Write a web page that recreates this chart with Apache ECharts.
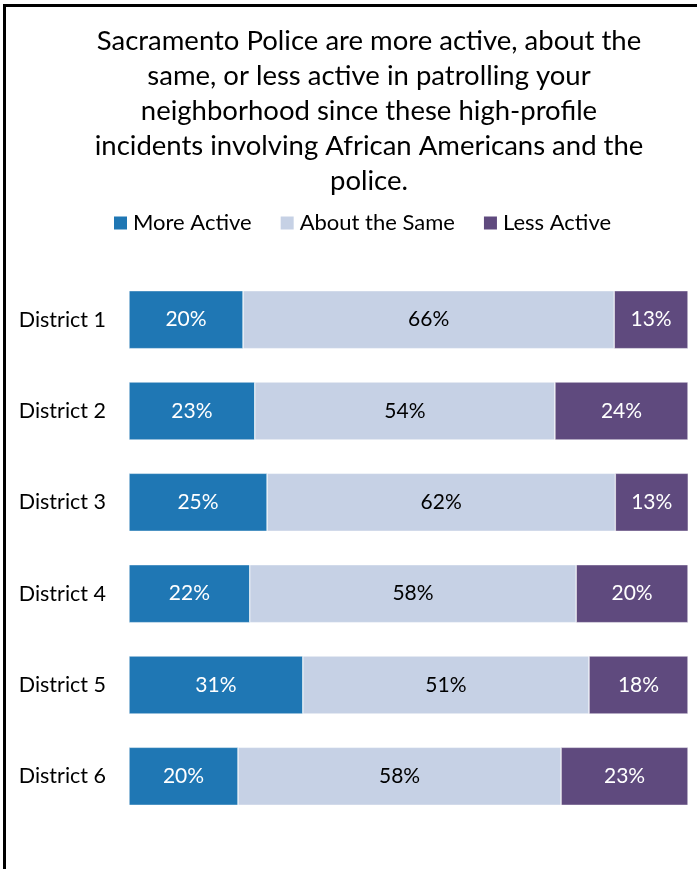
<!DOCTYPE html>
<html><head><meta charset="utf-8">
<script src="https://cdn.jsdelivr.net/npm/echarts@6/dist/echarts.min.js"></script>
<style>html,body{margin:0;padding:0;background:#fff}#c{width:697px;height:869px}</style>
</head><body><div id="c"></div>
<script>
const categories = ['District 1','District 2','District 3','District 4','District 5','District 6'];
const moreActive = [20.4, 22.5, 24.7, 21.6, 31.1, 19.5];
const aboutSame  = [66.4, 53.7, 62.3, 58.4, 51.2, 57.8];
const lessActive = [13.2, 23.8, 13.1, 20.0, 17.7, 22.7];
const seriesNames = ['More Active','About the Same','Less Active'];
const titleText = 'Sacramento Police are more active, about the\nsame, or less active in patrolling your\nneighborhood since these high-profile\nincidents involving African Americans and the\npolice.';

const FONT = 'Lato';
const colors = ['#1F77B4','#C6D1E5','#5F4A7E'];
const labelColors = ['#fff','#000','#fff'];
const chart = echarts.init(document.getElementById('c'));
const mk = (name, data, i) => ({
  name, type:'bar', stack:'s', data, barWidth:58,
  itemStyle:{color:colors[i], borderColor:'#fff', borderWidth:0.5},
  label:{show:true, position:'inside', color:labelColors[i], fontFamily:FONT, fontSize:21,
    formatter:p=>Math.round(p.value)+'%'}
});
chart.setOption({
  animation:false,
  textStyle:{fontFamily:FONT},
  title:{text:titleText, left:364, textAlign:'center', top:19,
    textStyle:{fontFamily:FONT, fontSize:27.5, fontWeight:'normal', color:'#000', lineHeight:35}},
  legend:{data:seriesNames, top:207, left:107, itemWidth:15, itemHeight:15, itemGap:27,
    icon:'rect', textStyle:{fontFamily:FONT, fontSize:22, color:'#000'}},
  grid:{left:129, right:9, top:274, bottom:47},
  xAxis:{type:'value', min:0, max:100, show:false},
  yAxis:{type:'category', data:categories, inverse:true,
    axisLine:{show:false}, axisTick:{show:false},
    axisLabel:{fontFamily:FONT, fontSize:21.5, color:'#000', margin:23}},
  series:[mk(seriesNames[0],moreActive,0), mk(seriesNames[1],aboutSame,1), mk(seriesNames[2],lessActive,2)],
  graphic:[{type:'rect', shape:{x:4.5, y:5.5, width:800, height:900}, style:{fill:'none', stroke:'#000', lineWidth:3}, silent:true}]
});
</script></body></html>
